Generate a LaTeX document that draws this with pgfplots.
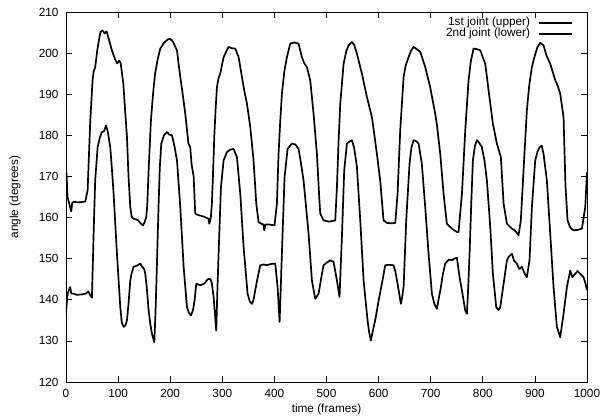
\documentclass[border=0pt]{standalone}
\usepackage{pgfplots}
\pgfplotsset{compat=1.18}
\usepackage{fontspec}
\setmainfont{Liberation Sans}
\newcommand{\gpfont}{\fontsize{11.8}{13}\selectfont}

\begin{document}
\begin{tikzpicture}
\useasboundingbox (-66pt,-35pt) rectangle (542pt,382pt);
\begin{axis}[
    scale only axis,
    width=521pt, height=370pt,
    xmin=0, xmax=1000,
    ymin=120, ymax=210,
    xtick={0,100,...,1000},
    ytick={120,130,...,210},
    tick align=inside,
    major tick length=6pt,
    axis line style={line width=0.7pt},
    every tick/.style={black, line width=0.7pt},
    /pgf/number format/assume math mode=true,
    /pgf/number format/1000 sep={},
    tick label style={font=\gpfont},
    xticklabel style={yshift=-4pt},
    yticklabel style={xshift=-4pt},
    xlabel={time (frames)},
    ylabel={angle (degrees)},
    every axis x label/.style={at={(axis description cs:0.5,0)}, yshift=-27pt, anchor=center, font=\gpfont},
    every axis y label/.style={at={(axis description cs:0,0.5)}, xshift=-51pt, rotate=90, anchor=center, font=\gpfont},
    legend plot pos=right,
    legend cell align=right,
    legend image code/.code={\draw[#1] (0pt,0pt) -- (33pt,0pt);},
    legend style={
        draw=none, fill=none, font=\gpfont,
        at={(1,1)}, anchor=north east, xshift=-14pt, yshift=-5pt,
        inner sep=0pt, row sep=0pt,
        nodes={inner sep=0pt, text height=8pt, text depth=3pt},
        /tikz/every odd column/.append style={column sep=8pt},
    },
]

% 1st joint (upper)
\addplot[black, line width=1.7pt, line join=round] coordinates {
(0,171) (1,170.7) (3,165) (6,163.5) (8,162.5) (10,161.5) (12,163.6) (15,163.8)
(25,163.7) (37,163.9) (41.5,166.6) (44,175) (46.6,183.6) (51,193.4) (53,195.5)
(56,196.5) (60,200.7) (63,203) (66,205.1) (70,205.5) (74,204.8) (78,205.3)
(82,203.5) (88,200.7) (94,198.6) (98,197.5) (102,198.2) (105,197.5) (110,192.6)
(113,187) (117,179.6) (120,170) (123.4,162.5) (126,160.2) (130,159.7) (135,159.5)
(139,159.3) (143,158.6) (147.7,158.1) (151,158.9) (154,160.1) (156,163)
(158.6,171.5) (163,183.6) (167,190) (171,195) (176,198.5) (181,201.1) (188,202.5)
(195,203.3) (200,203.5) (205,202.8) (210,201.5) (213,200.7) (216,197.5)
(219.4,194.2) (224,190) (229,185.2) (235,178) (238.5,177.1) (241,173) (245,170)
(248,161) (250,160.8) (257,160.5) (265,160.2) (273.7,159.7) (275,158.5) (278,160)
(280,163.4) (282,170) (284.6,179.6) (287,186) (289.7,191.7) (293,194) (296,195)
(302.5,199) (308,200.5) (312,201.5) (318,201.2) (324.9,201.1) (331.3,199)
(337.7,194.2) (342,191) (347.3,187.7) (353.7,182) (360,173.9) (365.2,163.4)
(369.6,158.9) (375,158.5) (379,158.3) (380.5,156.9) (383,158.3) (390,158.3)
(400.3,158.1) (404.8,163.4) (408,175.5) (411,183) (414.4,190.1) (419,195.5)
(424,199) (430.4,202.3) (438,202.6) (446.4,202.3) (452.8,199) (457,197.6)
(462.4,196.6) (468.8,193.4) (475.2,185.2) (481.6,175.5) (486,165) (488,161)
(494.4,159.3) (505,159) (516.8,159.3) (520,167.4) (523,178) (526.4,187.7)
(532.8,197.4) (538,200.5) (542.4,201.9) (548.8,202.7) (553,202) (558.4,199.9)
(563,197.5) (568,195) (577.6,189.3) (587.2,184.4) (592,180) (596.7,175.5)
(603.1,169) (609.5,159.3) (616,158.7) (624,158.6) (632,158.7) (636.4,165.8)
(641.5,181.2) (648,194.2) (652,197) (657.5,199) (662,200.5) (667,201.5) (673,201)
(680,200.3) (689.5,196.6) (699,191.7) (708.7,185.2) (712,182.5) (718.3,175.5)
(724.7,165.8) (731,158.5) (740.7,157.3) (750.3,156.5) (753.5,156.5) (755.4,159.3)
(760,165.8) (766.3,181.2) (772.7,193.4) (777,198) (782.3,201.1) (788,201)
(795,200.7) (800,199) (804.7,197.4) (811,191) (819.4,182.8) (827,178)
(834.7,174.7) (839.9,163.4) (846.3,158.5) (855.8,157.3) (862,156.8) (868.6,155.7)
(873,159.3) (878.2,171.5) (884.6,186.1) (889,192) (894.2,196.6) (900,199.5)
(905.1,201.5) (910,202.5) (916.6,201.9) (922,199.5) (929.4,197.4) (939,193.4)
(944,192) (948.6,190.1) (955,184.4) (958.8,167.4) (962.7,159.3) (968,157.5)
(974.2,156.9) (982,157) (990.2,157.3) (996.6,162.5) (1000,171)
};
\addlegendentry{1st joint (upper)}

% 2nd joint (lower)
\addplot[black, line width=1.7pt, line join=round] coordinates {
(0,136.6) (2,140) (3.1,141.5) (6,142.5) (8.2,143.1) (10,141.5) (15,141.5)
(20,141.2) (30,141.3) (38,141.5) (43,142) (46.6,141.1) (49.8,140.5) (53,156.1)
(56,169) (60.7,177.1) (65,179.5) (69,180.8) (73,181) (76.7,182.4) (80,181)
(85,177.1) (88,172) (91.4,165.8) (97.8,151.2) (104.2,138.2) (107,134.5)
(110.6,133.4) (114,133.8) (117,135) (120,139) (123.4,144.7) (126,146.5)
(129.8,148) (136,148.3) (142.6,148.8) (145,148.2) (150,147.5) (152.2,146.3)
(155,143) (158.6,137.4) (162,134) (165,131.7) (169.5,129.7) (171.5,136)
(173.3,143.1) (177.8,163.4) (180,172) (182.9,178) (188,180) (193.8,180.8)
(198,180.2) (203.4,180) (208,177.5) (213,173.9) (219.4,162.5) (225.8,148)
(232.2,138.2) (236,136.8) (239.8,136.2) (243.6,137.4) (247,140) (250,143.9)
(257.7,143.5) (266,144) (272,145) (276.9,145.1) (280,144) (283.3,140.7)
(288.4,132.5) (290.5,142) (292.9,151.2) (297.4,167.4) (302.5,173.9) (308.9,175.9)
(315,176.5) (321.7,176.7) (328.1,174.7) (334.5,165.8) (340.9,152.8) (348.5,141.5)
(353,139.5) (356.9,139) (360,140) (363.2,142.3) (368,145.5) (372.8,148.4)
(380,148.6) (385.6,148.4) (393,148.7) (401.6,148.8) (406.1,143.1) (410,134.6)
(414.4,151.2) (419.5,169.8) (425.3,176.7) (433.6,178) (440,177.8) (446.4,176.7)
(450,174) (456,169) (465.6,156.1) (472,144.7) (478.4,140.2) (484.8,141.5)
(491.2,146.3) (494.4,148.4) (500,149) (507.2,149.6) (513.6,149.2) (520,144.7)
(525,140.7) (529.6,155.3) (534,171.5) (539.2,178) (544,178.5) (548.8,178.8)
(553,177) (558.4,172.3) (564.8,159.3) (571.2,144.7) (578.8,135) (582,132)
(585.2,130.1) (589,132.5) (593.5,135) (600,139.8) (606.3,143.9) (612.7,148.4)
(620,148.5) (628.7,148.4) (632,147) (636.4,143.9) (642.8,139) (645,140.5)
(648,143.1) (653,159.3) (659.4,173.1) (663,177) (667,178.8) (672,178.6)
(676.7,178) (683,173.1) (689.5,162.5) (695.9,151.2) (702.3,141.5) (707,139)
(711.9,137.8) (715,140) (719.6,143.1) (723,146) (727.9,148.8) (735,149.8)
(740.7,149.6) (745,150) (750.3,150.2) (755.4,145.5) (759.9,142.3) (766.3,137.4)
(769.5,136.6) (772,143) (774.6,151.2) (778,164) (781,173.9) (785,177.5)
(788.7,178.8) (793,178.2) (798.3,177.1) (803,174) (807.9,169) (814.3,157.7)
(819.4,146.3) (825.8,138.2) (830,137.5) (833.5,138.2) (839.9,143.9) (846.3,149.6)
(850,150.5) (855.8,151.2) (860,149.5) (865.4,148.8) (870,147.5) (875,148)
(880,146.5) (884.6,145.5) (889.7,149.6) (894.2,162.5) (900.6,173.9) (905,176)
(909,177.1) (913,177.5) (916.6,175.5) (923,169) (929.4,156.1) (935.8,143.1)
(942.2,133.4) (948.6,130.9) (955,136.6) (961.4,143.1) (967.8,147.1) (972,145.5)
(977.4,146.3) (982,147) (987,146.3) (993.4,145.5) (997,144) (1000,142.3)
};
\addlegendentry{2nd joint (lower)}

\end{axis}
\end{tikzpicture}
\end{document}
